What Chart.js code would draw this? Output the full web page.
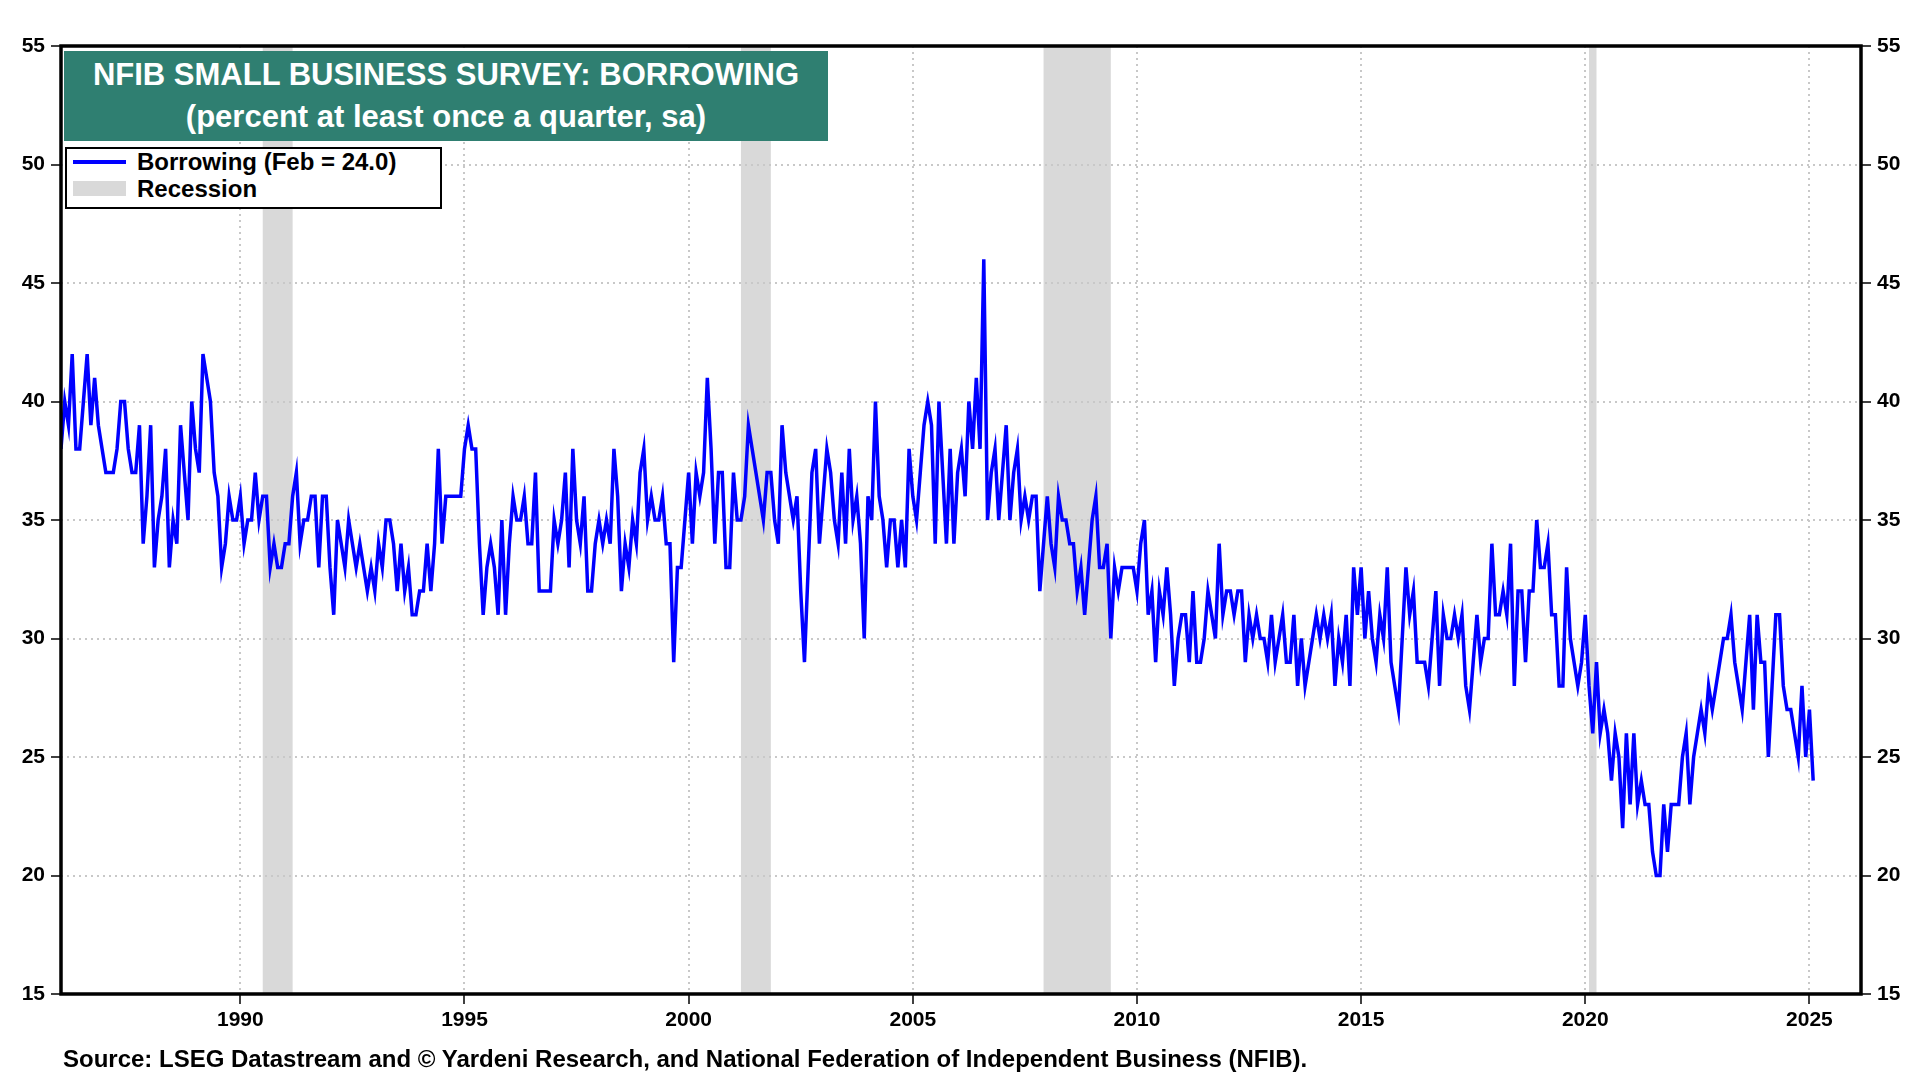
<!DOCTYPE html>
<html>
<head>
<meta charset="utf-8">
<script src="https://cdn.jsdelivr.net/npm/chart.js@4"></script>
<style>
body{margin:0;background:#fff;font-family:"Liberation Sans",Arial,sans-serif;}
#wrap{position:relative;width:1920px;height:1080px;overflow:hidden;}
#myChart{position:absolute;left:0;top:0;}
#title{position:absolute;left:64px;top:51px;width:764px;height:90px;background:#2f7f71;color:#fff;
	font-weight:bold;font-size:31px;line-height:42px;text-align:center;padding-top:3px;box-sizing:border-box;white-space:nowrap;}
#legend{position:absolute;left:65px;top:147px;width:377px;height:62px;border:2.5px solid #000;background:#fff;box-sizing:border-box;}
.lg{position:absolute;left:70px;font-weight:bold;font-size:24px;line-height:26px;color:#000;white-space:nowrap;}
#source{position:absolute;left:63px;top:1045px;font-weight:bold;font-size:24px;color:#000;white-space:nowrap;}
</style>
</head>
<body>
<div id="wrap">
<canvas id="myChart" width="1920" height="1080"></canvas>
<div id="title">NFIB SMALL BUSINESS SURVEY: BORROWING<br>(percent at least once a quarter, sa)</div>
<div id="legend">
	<div style="position:absolute;left:6px;top:11px;width:53px;height:3.5px;background:#0000ff"></div>
	<div class="lg" style="top:0px">Borrowing (Feb = 24.0)</div>
	<div style="position:absolute;left:6px;top:32px;width:53px;height:15px;background:#d9d9d9"></div>
	<div class="lg" style="top:27px">Recession</div>
</div>
<div id="source">Source: LSEG Datastream and © Yardeni Research, and National Federation of Independent Business (NFIB).</div>
</div>
<script>
// monthly, Jan 1986 .. Feb 2025
var startYear = 1986;
var borrowing = [
	38,40,39,42,38,38,40,42,39,41,39,38,
	37,37,37,38,40,40,38,37,37,39,34,36,
	39,33,35,36,38,33,35,34,39,37,35,40,
	38,37,42,41,40,37,36,33,34,36,35,35,
	36,34,35,35,37,35,36,36,33,34,33,33,
	34,34,36,37,34,35,35,36,36,33,36,36,
	33,31,35,34,33,35,34,33,34,33,32,33,
	32,34,33,35,35,34,32,34,32,33,31,31,
	32,32,34,32,34,38,34,36,36,36,36,36,
	38,39,38,38,34,31,33,34,33,31,35,31,
	34,36,35,35,36,34,34,37,32,32,32,32,
	35,34,35,37,33,38,35,34,36,32,32,34,
	35,34,35,34,38,36,32,34,33,35,34,37,
	38,35,36,35,35,36,34,34,29,33,33,35,
	37,34,37,36,37,41,38,34,37,37,33,33,
	37,35,35,36,39,38,37,36,35,37,37,35,
	34,39,37,36,35,36,32,29,33,37,38,34,
	36,38,37,35,34,37,34,38,35,36,34,30,
	36,35,40,36,35,33,35,35,33,35,33,38,
	36,35,37,39,40,39,34,40,37,34,38,34,
	37,38,36,40,38,41,38,46,35,37,38,35,
	37,39,35,37,38,35,36,35,36,36,32,34,
	36,34,33,36,35,35,34,34,32,33,31,33,
	35,36,33,33,34,30,33,32,33,33,33,33,
	32,34,35,31,32,29,32,31,33,31,28,30,
	31,31,29,32,29,29,30,32,31,30,34,31,
	32,32,31,32,32,29,31,30,31,30,30,29,
	31,29,30,31,29,29,31,28,30,28,29,30,
	31,30,31,30,31,28,30,29,31,28,33,31,
	33,30,32,30,29,31,30,33,29,28,27,30,
	33,31,32,29,29,29,28,30,32,28,31,30,
	30,31,30,31,28,27,29,31,29,30,30,34,
	31,31,32,31,34,28,32,32,29,32,32,35,
	33,33,34,31,31,28,28,33,30,29,28,29,
	31,28,26,29,26,27,26,24,26,25,22,26,
	23,26,23,24,23,23,21,20,20,23,21,23,
	23,23,25,26,23,25,26,27,26,28,27,28,
	29,30,30,31,29,28,27,29,31,27,31,29,
	29,25,28,31,31,28,27,27,26,25,28,25,
	27,24
];
var recessionStart = ["1990-07", "2001-03", "2007-12", "2020-02"];
var recessionEnd = ["1991-03", "2001-11", "2009-06", "2020-04"];
var yearTicks = [1990, 1995, 2000, 2005, 2010, 2015, 2020, 2025];
var xMin = 1986.0, xMax = 2026.15;
var yMin = 15, yMax = 55, yStep = 5;

function toYear(s){
	var p = s.split("-");
	return parseInt(p[0]) + (parseInt(p[1]) - 1) / 12;
}

var points = [];
for(var i = 0; i < borrowing.length; i++)
	points.push({x: startYear + i / 12, y: borrowing[i]});

var tickFont = {family: "'Liberation Sans', Arial, sans-serif", size: 21, weight: "bold"};

var recessionPlugin = {
	id: "recessions",
	beforeDraw: function(chart){
		var ctx = chart.ctx, area = chart.chartArea, xs = chart.scales.x;
		ctx.save();
		ctx.fillStyle = "#d9d9d9";
		for(var i = 0; i < recessionStart.length; i++){
			var a = xs.getPixelForValue(toYear(recessionStart[i]));
			var b = xs.getPixelForValue(toYear(recessionEnd[i]));
			ctx.fillRect(a, area.top, b - a, area.bottom - area.top);
		}
		ctx.restore();
	}
};

var framePlugin = {
	id: "frame",
	afterDraw: function(chart){
		var ctx = chart.ctx, a = chart.chartArea;
		ctx.save();
		ctx.strokeStyle = "#000";
		ctx.lineWidth = 3.5;
		ctx.strokeRect(a.left, a.top, a.right - a.left, a.bottom - a.top);
		ctx.restore();
	}
};

function yAxis(pos, width, grid){
	return {
		type: "linear", position: pos, min: yMin, max: yMax,
		afterFit: function(s){ s.width = width; },
		ticks: {stepSize: yStep, color: "#000", font: tickFont, padding: 6},
		grid: {display: true, drawOnChartArea: grid, color: "#c8c8c8", lineWidth: 2,
			tickColor: "#000", tickLength: 10, tickWidth: 1.5},
		border: {display: false, dash: [2, 4]}
	};
}

new Chart(document.getElementById("myChart"), {
	type: "line",
	data: {
		datasets: [{
			label: "Borrowing",
			data: points,
			borderColor: "#0000ff",
			borderWidth: 3.5,
			pointRadius: 0,
			tension: 0,
			fill: false
		}]
	},
	options: {
		responsive: false,
		animation: false,
		devicePixelRatio: 1,
		layout: {padding: {top: 46, left: 0, right: 0, bottom: 0}},
		plugins: {legend: {display: false}, tooltip: {enabled: false}},
		scales: {
			x: {
				type: "linear", min: xMin, max: xMax,
				afterFit: function(s){ s.height = 86; },
				afterBuildTicks: function(s){
					s.ticks = yearTicks.map(function(v){ return {value: v}; });
				},
				ticks: {color: "#000", font: tickFont, padding: 4, maxRotation: 0, autoSkip: false,
					callback: function(v){ return String(v); }},
				grid: {color: "#c8c8c8", lineWidth: 2, tickColor: "#000", tickLength: 10, tickWidth: 1.5},
				border: {display: false, dash: [2, 4]}
			},
			y: yAxis("left", 61, true),
			y2: yAxis("right", 59, false)
		}
	},
	plugins: [recessionPlugin, framePlugin]
});
</script>
</body>
</html>
